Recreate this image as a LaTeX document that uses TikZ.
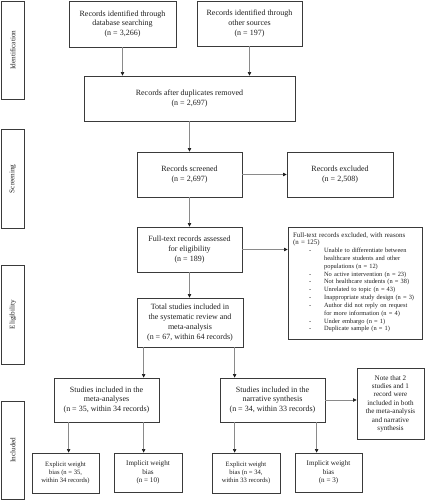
\documentclass[tikz,border=0pt]{standalone}
\usepackage{fontspec}
\setmainfont{Liberation Serif}
\usetikzlibrary{arrows.meta}
\definecolor{boxc}{HTML}{3A3A3A}
\definecolor{arrc}{HTML}{8A8A8A}
\definecolor{tipc}{HTML}{1A1A1A}
\definecolor{txt}{HTML}{1E1E1E}
\newcommand{\exitem}[1]{\hspace*{16pt}\makebox[15pt][l]{-}#1}
\newcommand{\excont}[1]{\hspace*{31pt}#1}
\begin{document}
\begin{tikzpicture}[x=1pt,y=-1pt,
  box/.style={draw=boxc, line width=0.75pt, align=center, inner sep=1pt, text=txt,
    font=\fontsize{8}{9.8}\selectfont},
  smallbox/.style={box, font=\fontsize{6.6}{7.8}\selectfont},
  midbox/.style={box, font=\fontsize{7.1}{8.4}\selectfont},
  side/.style={draw=boxc, line width=0.75pt, rotate=90, text=txt, inner sep=1pt,
    font=\fontsize{7.2}{8.5}\selectfont, minimum height=22.3pt},
  arr/.style={draw=arrc, line width=0.6pt, -{Triangle[length=3.6pt,width=3.4pt,color=tipc]}}
]
\useasboundingbox (0,0) rectangle (426,500);

% phase labels
\node[side, minimum width=98.3pt] (sid) at (12.85,50.15) {Identification};
\node[side, minimum width=99pt] (sscr) at (12.85,178.8) {Screening};
\node[side, minimum width=99.3pt] (selig) at (12.85,314.65) {Eligibility};
\node[side, minimum width=98pt] (sinc) at (12.85,450) {Included};

% main boxes
\node[box, minimum width=107pt, minimum height=46pt] (b1) at (122.5,24)
  {Records identified through\\database searching\\(n = 3,266)};
\node[box, minimum width=105pt, minimum height=45pt] (b2) at (249.5,23.5)
  {Records identified through\\other sources\\(n = 197)};
\node[box, minimum width=211pt, minimum height=45pt] (b3) at (189.5,98.5)
  {Records after duplicates removed\\(n = 2,697)};
\node[box, minimum width=105pt, minimum height=45pt] (b4) at (189.5,174.5)
  {Records screened\\(n = 2,697)};
\node[box, minimum width=106pt, minimum height=45pt] (b5) at (340,174.5)
  {Records excluded\\(n = 2,508)};
\node[box, minimum width=105pt, minimum height=45pt] (b6) at (189.5,249.5)
  {Full-text records assessed\\for eligibility\\(n = 189)};
\node[box, minimum width=134pt, minimum height=112.5pt] (b7) at (355,283.5) {};
\node[anchor=north west, inner sep=0pt, text width=128pt, align=left, text=txt,
  font=\fontsize{6.4}{7.82}\selectfont] (b7t) at ([xshift=5.3pt,yshift=-5.2pt]b7.north west)
  {{\fontsize{6.9}{7.82}\selectfont Full-text records excluded, with reasons\\(n = 125)}\\
   \exitem{Unable to differentiate between}\\
   \excont{healthcare students and other}\\
   \excont{populations (n = 12)}\\
   \exitem{No active intervention (n = 23)}\\
   \exitem{Not healthcare students (n = 38)}\\
   \exitem{Unrelated to topic (n = 43)}\\
   \exitem{Inappropriate study design (n = 3)}\\
   \exitem{Author did not reply on request}\\
   \excont{for more information (n = 4)}\\
   \exitem{Under embargo (n = 1)}\\
   \exitem{Duplicate sample (n = 1)}};
\node[box, minimum width=106pt, minimum height=49pt] (b8) at (190,322.5)
  {Total studies included in\\the systematic review and\\meta-analysis\\(n = 67, within 64 records)};
\node[box, minimum width=105pt, minimum height=44pt] (b9) at (106.5,400)
  {Studies included in the\\meta-analyses\\(n = 35, within 34 records)};
\node[box, minimum width=105pt, minimum height=44pt] (b10) at (272.5,400)
  {Studies included in the\\narrative synthesis\\(n = 34, within 33 records)};
\node[midbox, minimum width=67pt, minimum height=71pt] (b11) at (390.5,403.5)
  {Note that 2\\studies and 1\\record were\\included in both\\the meta-analysis\\and narrative\\synthesis};
\node[smallbox, minimum width=67pt, minimum height=40pt] (b12) at (65.5,473)
  {Explicit weight\\bias (n = 35,\\within 34 records)};
\node[midbox, minimum width=68pt, minimum height=39pt] (b13) at (148,472.5)
  {Implicit weight\\bias\\(n = 10)};
\node[smallbox, minimum width=68pt, minimum height=40pt] (b14) at (246,473)
  {Explicit weight\\bias (n = 34,\\within 33 records)};
\node[midbox, minimum width=67pt, minimum height=39pt] (b15) at (328.5,472.5)
  {Implicit weight\\bias\\(n = 3)};

% connectors
\draw[arr] (b1.south) -- (b1.south |- b3.north);
\draw[arr] (b2.south) -- (b2.south |- b3.north);
\draw[arr] (b3.south) -- (b3.south |- b4.north);
\draw[arr] (b4.east) -- (b5.west |- b4.east);
\draw[arr] (b4.south) -- (b4.south |- b6.north);
\draw[arr] (b6.east) -- (b7.west |- b6.east);
\draw[arr] (b6.south) -- (b6.south |- b8.north);
\draw[arr] ([xshift=7pt]b8.south west) -- ([xshift=7pt]b8.south west |- b9.north);
\draw[arr] ([xshift=98pt]b8.south west) -- ([xshift=98pt]b8.south west |- b10.north);
\draw[arr] (b10.east) -- (b11.west |- b10.east);
\draw[arr] ([xshift=15pt]b9.south west) -- ([xshift=15pt]b9.south west |- b12.north);
\draw[arr] ([xshift=90pt]b9.south west) -- ([xshift=90pt]b9.south west |- b13.north);
\draw[arr] ([xshift=15pt]b10.south west) -- ([xshift=15pt]b10.south west |- b14.north);
\draw[arr] ([xshift=97pt]b10.south west) -- ([xshift=97pt]b10.south west |- b15.north);
\end{tikzpicture}
\end{document}
